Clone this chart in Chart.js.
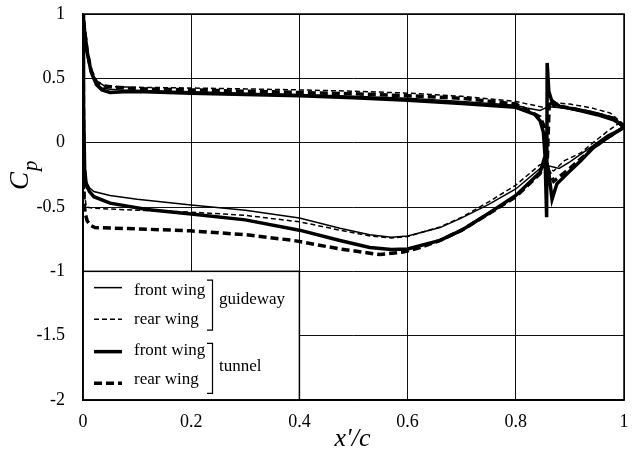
<!DOCTYPE html>
<html lang="en">
<head>
    <meta charset="UTF-8">
    <title>Cp distribution</title>
    <script src="https://cdn.jsdelivr.net/npm/chart.js"></script>
    <style>
        body { margin: 0; background: #fff; }
        #wrap { width: 638px; height: 454px; }
    </style>
</head>
<body>
    <div id="wrap"><canvas id="cpChart"></canvas></div>

    <script>
        // axis ticks
        const xTickValues = [0, 0.2, 0.4, 0.6, 0.8, 1];
        const xTickLabels = ['0', '0.2', '0.4', '0.6', '0.8', '1'];
        const yTickValues = [-2, -1.5, -1, -0.5, 0, 0.5, 1];
        const yTickLabels = ['-2', '-1.5', '-1', '-0.5', '0', '0.5', '1'];

        // each loop: trailing edge -> pressure side -> leading edge -> suction side -> trailing edge
        const gwFrontX = [1.0, 0.98, 0.95, 0.92, 0.89, 0.86, 0.845, 0.82, 0.8, 0.7, 0.6, 0.5, 0.4, 0.3, 0.2, 0.1, 0.07, 0.05, 0.035, 0.025, 0.015, 0.008, 0.003, 0,
                          0.001, 0.003, 0.006, 0.012, 0.02, 0.05, 0.1, 0.2, 0.3, 0.4, 0.475, 0.53, 0.57, 0.6, 0.66, 0.7, 0.75, 0.8, 0.845, 0.86, 0.88, 0.9, 0.94, 0.97, 1.0];
        const gwFrontCp = [0.12, 0.17, 0.21, 0.24, 0.27, 0.28, 0.25, 0.27, 0.29, 0.32, 0.345, 0.36, 0.375, 0.385, 0.395, 0.405, 0.41, 0.415, 0.425, 0.46, 0.55, 0.68, 0.85, 1.0,
                           0.4, -0.15, -0.3, -0.35, -0.38, -0.41, -0.44, -0.485, -0.525, -0.585, -0.665, -0.715, -0.735, -0.725, -0.66, -0.585, -0.48, -0.36, -0.2, -0.18, -0.2, -0.15, -0.03, 0.06, 0.12];

        const gwRearX = [1.0, 0.975, 0.94, 0.9, 0.87, 0.855, 0.845, 0.8, 0.7, 0.6, 0.5, 0.4, 0.3, 0.2, 0.1, 0.06, 0.04, 0.025, 0.015, 0.008, 0.003, 0,
                         0.001, 0.003, 0.006, 0.02, 0.1, 0.2, 0.3, 0.4, 0.475, 0.53, 0.57, 0.6, 0.66, 0.7, 0.75, 0.8, 0.845, 0.87, 0.89, 0.92, 0.943, 0.97, 0.99, 1.0];
        const gwRearCp = [0.14, 0.23, 0.27, 0.3, 0.31, 0.27, 0.28, 0.32, 0.36, 0.385, 0.4, 0.41, 0.418, 0.425, 0.43, 0.435, 0.44, 0.48, 0.56, 0.7, 0.87, 1.0,
                          0.2, -0.4, -0.5, -0.51, -0.525, -0.54, -0.565, -0.615, -0.68, -0.725, -0.74, -0.73, -0.655, -0.58, -0.46, -0.33, -0.17, -0.22, -0.14, -0.08, 0.0, 0.09, 0.15, 0.14];

        const tnFrontX = [1.0, 0.98, 0.944, 0.91, 0.882, 0.875, 0.866, 0.861, 0.858, 0.857, 0.854, 0.851, 0.845, 0.835, 0.8, 0.7, 0.6, 0.5, 0.4, 0.3, 0.2, 0.1, 0.075, 0.05, 0.035, 0.025, 0.015, 0.008, 0.003, 0,
                          0.001, 0.003, 0.006, 0.012, 0.02, 0.05, 0.118, 0.2, 0.3, 0.4, 0.475, 0.53, 0.57, 0.6, 0.66, 0.7, 0.753, 0.8, 0.845, 0.853, 0.86, 0.867, 0.876, 0.9, 0.92, 0.943, 0.97, 1.0];
        const tnFrontCp = [0.12, 0.19, 0.23, 0.26, 0.28, 0.3, 0.33, 0.4, 0.62, -0.58, -0.1, 0.08, 0.17, 0.22, 0.275, 0.305, 0.33, 0.35, 0.365, 0.375, 0.385, 0.398, 0.395, 0.39, 0.41, 0.45, 0.55, 0.7, 0.87, 1.0,
                           0.3, -0.2, -0.33, -0.38, -0.42, -0.47, -0.52, -0.555, -0.6, -0.68, -0.76, -0.815, -0.83, -0.826, -0.76, -0.68, -0.54, -0.41, -0.23, -0.12, -0.2, -0.44, -0.32, -0.22, -0.14, -0.04, 0.04, 0.12];

        const tnRearX = [1.0, 0.98, 0.944, 0.9, 0.87, 0.862, 0.857, 0.853, 0.845, 0.8, 0.7, 0.6, 0.5, 0.4, 0.3, 0.2, 0.1, 0.06, 0.04, 0.025, 0.015, 0.008, 0.003, 0,
                         0.001, 0.002, 0.004, 0.008, 0.015, 0.022, 0.1, 0.198, 0.3, 0.389, 0.475, 0.549, 0.592, 0.62, 0.66, 0.7, 0.753, 0.8, 0.845, 0.853, 0.87, 0.9, 0.943, 0.97, 1.0];
        const tnRearCp = [0.12, 0.19, 0.23, 0.27, 0.29, 0.33, -0.3, 0.12, 0.2, 0.3, 0.345, 0.365, 0.38, 0.39, 0.4, 0.41, 0.42, 0.43, 0.44, 0.47, 0.56, 0.7, 0.87, 1.0,
                          0.2, -0.45, -0.55, -0.61, -0.645, -0.66, -0.67, -0.685, -0.715, -0.76, -0.826, -0.87, -0.85, -0.82, -0.76, -0.68, -0.545, -0.42, -0.24, -0.15, -0.3, -0.2, -0.04, 0.04, 0.12];

        const wingNames = ['front wing', 'rear wing', 'front wing', 'rear wing'];
        const groupNames = ['guideway', 'tunnel'];

        const toPoints = (xs, ys) => xs.map((v, i) => ({ x: v, y: ys[i] }));

        const serif = 'Liberation Serif, Times New Roman, serif';

        const datasets = [
            { data: toPoints(gwFrontX, gwFrontCp), borderWidth: 1.5, borderDash: [] },
            { data: toPoints(gwRearX, gwRearCp), borderWidth: 1.5, borderDash: [5, 3] },
            { data: toPoints(tnFrontX, tnFrontCp), borderWidth: 3.5, borderDash: [] },
            { data: toPoints(tnRearX, tnRearCp), borderWidth: 3.5, borderDash: [8, 4] }
        ].map((d, i) => ({
            label: wingNames[i],
            data: d.data,
            showLine: true,
            borderColor: '#000',
            backgroundColor: '#000',
            borderWidth: d.borderWidth,
            borderDash: d.borderDash,
            pointRadius: 0,
            fill: false,
            tension: 0
        }));

        // legend box, frame and axis titles
        const overlay = {
            id: 'overlay',
            afterDraw(chart) {
                const { ctx, chartArea: a, scales: { x, y } } = chart;
                ctx.save();

                const bx = x.getPixelForValue(0), bx1 = x.getPixelForValue(0.4);
                const by = y.getPixelForValue(-1), by1 = y.getPixelForValue(-2);
                ctx.fillStyle = '#fff';
                ctx.fillRect(bx, by, bx1 - bx, by1 - by);
                ctx.strokeStyle = '#000';
                ctx.lineWidth = 1.5;
                ctx.strokeRect(bx, by, bx1 - bx, by1 - by);

                const lineY = [16.3, 48, 80.3, 112];
                const textY = [24, 53, 83.5, 113];
                ctx.font = '17px ' + serif;
                ctx.fillStyle = '#000';
                ctx.textBaseline = 'alphabetic';
                ctx.textAlign = 'left';
                datasets.forEach((ds, i) => {
                    ctx.beginPath();
                    ctx.lineWidth = ds.borderWidth;
                    ctx.setLineDash(ds.borderDash);
                    ctx.moveTo(bx + 11, by + lineY[i]);
                    ctx.lineTo(bx + 39, by + lineY[i]);
                    ctx.stroke();
                    ctx.fillText(ds.label, bx + 51, by + textY[i]);
                });
                ctx.setLineDash([]);

                // brackets
                ctx.lineWidth = 1.2;
                [[8.7, 58.7], [72, 122]].forEach(b => {
                    ctx.beginPath();
                    ctx.moveTo(bx + 124, by + b[0]);
                    ctx.lineTo(bx + 129.5, by + b[0]);
                    ctx.lineTo(bx + 129.5, by + b[1]);
                    ctx.lineTo(bx + 124, by + b[1]);
                    ctx.stroke();
                });
                ctx.fillText(groupNames[0], bx + 136, by + 33);
                ctx.fillText(groupNames[1], bx + 136, by + 99.5);

                // plot frame
                ctx.lineWidth = 1.5;
                ctx.strokeRect(a.left, a.top, a.right - a.left, a.bottom - a.top);

                // x axis title
                ctx.font = 'italic 26px ' + serif;
                ctx.textAlign = 'center';
                ctx.fillText("x'/c", (a.left + a.right) / 2 - 1, 446);

                // y axis title, rotated
                ctx.translate(28, 190);
                ctx.rotate(-Math.PI / 2);
                ctx.textAlign = 'left';
                ctx.font = 'italic 27px ' + serif;
                ctx.fillText('C', 0, 0);
                const cw = ctx.measureText('C').width;
                ctx.font = 'italic 21px ' + serif;
                ctx.fillText('p', cw + 1, 9);

                ctx.restore();
            }
        };

        new Chart(document.getElementById('cpChart'), {
            type: 'scatter',
            data: { datasets: datasets },
            options: {
                responsive: true,
                maintainAspectRatio: false,
                animation: false,
                layout: { padding: { left: 0, right: 14, top: 14, bottom: 0 } },
                plugins: {
                    legend: { display: false },
                    tooltip: { enabled: false }
                },
                scales: {
                    x: {
                        type: 'linear',
                        min: 0,
                        max: 1,
                        afterFit: s => { s.height = 54; s.paddingLeft = 0; s.paddingRight = 0; },
                        afterBuildTicks: s => { s.ticks = xTickValues.map(v => ({ value: v })); },
                        grid: { color: '#111', lineWidth: 1, drawTicks: false },
                        border: { color: '#000', width: 1.5 },
                        ticks: {
                            padding: 11,
                            color: '#000',
                            font: { family: serif, size: 18 },
                            callback: v => xTickLabels[xTickValues.indexOf(v)]
                        }
                    },
                    y: {
                        type: 'linear',
                        min: -2,
                        max: 1,
                        afterFit: s => { s.width = 83; s.paddingTop = 0; s.paddingBottom = 0; },
                        afterBuildTicks: s => { s.ticks = yTickValues.map(v => ({ value: v })); },
                        grid: { color: '#111', lineWidth: 1, drawTicks: false },
                        border: { color: '#000', width: 1.5 },
                        ticks: {
                            padding: 18,
                            color: '#000',
                            font: { family: serif, size: 18 },
                            callback: v => yTickLabels[yTickValues.indexOf(v)]
                        }
                    }
                }
            },
            plugins: [overlay]
        });
    </script>
</body>
</html>
